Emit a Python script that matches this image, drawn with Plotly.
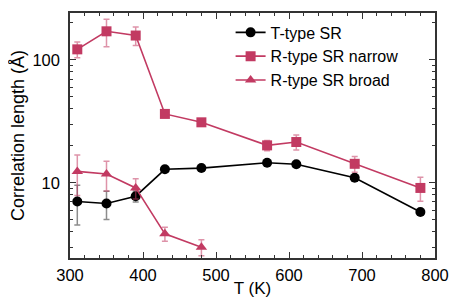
import plotly.graph_objects as go
import math

T_t = [310, 350, 390, 430, 480, 570, 610, 690, 780]
L_t = [7.05, 6.8, 7.8, 12.9, 13.2, 14.6, 14.2, 11.0, 5.8]
E_t = [2.5, 1.75, 0.8, 0, 0, 0, 0, 0, 0]

T_n = [310, 350, 390, 430, 480, 570, 610, 690, 780]
L_n = [122, 171, 158, 36.4, 31.1, 20.2, 21.5, 14.3, 9.1]
E_n = [18, 43, 27, 1.5, 1.0, 1.9, 3.0, 2.1, 2.0]

T_b = [310, 350, 390, 430, 480]
L_b = [12.4, 11.8, 9.1, 3.85, 3.0]
E_b = [4.5, 3.2, 1.7, 0.5, 0.45]

x_ticks = [300, 400, 500, 600, 700, 800]
y_minor = [3, 4, 5, 6, 7, 8, 9, 20, 30, 40, 50, 60, 70, 80, 90, 200]

RED = "#C23A62"
RED_ERR = "rgba(194,58,98,0.55)"
BLK_ERR = "rgba(0,0,0,0.45)"
FONT = "Liberation Sans, Arial"

fig = go.Figure()
fig.add_trace(go.Scatter(
    x=T_t, y=L_t, name="T-type SR", mode="lines+markers",
    line=dict(color="black", width=1.6),
    marker=dict(symbol="circle", size=10, color="black"),
    error_y=dict(type="data", array=E_t, color=BLK_ERR, thickness=1.5, width=3),
))
fig.add_trace(go.Scatter(
    x=T_n, y=L_n, name="R-type SR narrow", mode="lines+markers",
    line=dict(color=RED, width=1.6),
    marker=dict(symbol="square", size=10, color=RED),
    error_y=dict(type="data", array=E_n, color=RED_ERR, thickness=1.5, width=3),
))
fig.add_trace(go.Scatter(
    x=T_b, y=L_b, name="R-type SR broad", mode="lines+markers",
    line=dict(color=RED, width=1.6),
    marker=dict(symbol="triangle-up", size=10, color=RED),
    error_y=dict(type="data", array=E_b, color=RED_ERR, thickness=1.5, width=3),
))

axis_common = dict(
    showline=True, linecolor="#333", linewidth=1.5, mirror="ticks",
    ticks="inside", tickcolor="#333", tickwidth=1.2, showgrid=False, zeroline=False,
    tickfont=dict(family=FONT, size=16.5, color="black"),
    automargin=False,
)

fig.update_xaxes(
    range=[300, 800], tickmode="array", tickvals=x_ticks, ticklen=6, ticklabelstandoff=1,
    minor=dict(ticks="inside", dtick=20, tick0=300, ticklen=3, tickcolor="#333", tickwidth=1.2),
    title=dict(text="T (K)", font=dict(family=FONT, size=17, color="black"), standoff=0),
    **axis_common,
)
fig.update_yaxes(
    type="log", range=[math.log10(2.45), math.log10(241)],
    tickmode="array", tickvals=[10, 100], ticktext=["10", "100"], ticklen=6, ticklabelstandoff=5,
    minor=dict(ticks="inside", tickmode="array", tickvals=y_minor, ticklen=3, tickcolor="#333", tickwidth=1.2),
    title=dict(text="Correlation length (Å)", font=dict(family=FONT, size=18, color="black"), standoff=4),
    **axis_common,
)

fig.update_layout(
    width=469, height=307,
    margin=dict(l=62, r=42, t=5, b=57),
    paper_bgcolor="white", plot_bgcolor="white",
    showlegend=True,
    legend=dict(x=0.44, y=0.99, xanchor="left", yanchor="top",
                font=dict(family=FONT, size=16, color="black"),
                bgcolor="rgba(0,0,0,0)", tracegroupgap=0, itemwidth=30),
)

fig.write_html("out.html")
